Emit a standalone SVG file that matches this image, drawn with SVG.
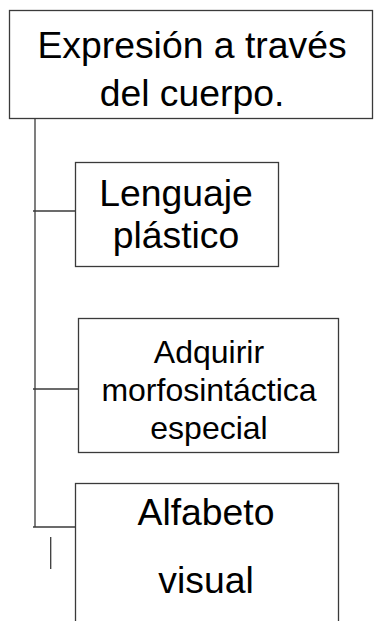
<svg xmlns="http://www.w3.org/2000/svg" width="374" height="621" viewBox="0 0 374 621">
<style>
.box{fill:#fff;stroke:#3a3a3a;stroke-width:1.3}
.ln{stroke:#3a3a3a;stroke-width:1.3;fill:none}
.t{font-family:"Liberation Sans",Arial,sans-serif;fill:#000;text-anchor:middle}
.b{font-size:37.33px}
.s{font-size:32px}
</style>
<rect width="374" height="621" fill="#fff"/>
<g id="connectors">
<path class="ln" d="M35,119 V527"/>
<path class="ln" d="M33,211 H75"/>
<path class="ln" d="M33,389 H78"/>
<path class="ln" d="M33,527 H75"/>
<path class="ln" d="M50.7,537 V569"/>
</g>
<g id="root">
<rect class="box" x="9.5" y="10.5" width="363" height="108"/>
<text class="t b" x="192" y="58">Expresión a través</text>
<text class="t b" x="192" y="106">del cuerpo.</text>
</g>
<g id="n1">
<rect class="box" x="75.5" y="162.5" width="203" height="104"/>
<text class="t b" x="176" y="206">Lenguaje</text>
<text class="t b" x="176" y="248">plástico</text>
</g>
<g id="n2">
<rect class="box" x="78.5" y="318.5" width="260" height="134"/>
<text class="t s" x="209" y="363">Adquirir</text>
<text class="t s" x="209" y="401">morfosintáctica</text>
<text class="t s" x="209" y="439">especial</text>
</g>
<g id="n3">
<rect class="box" x="75.5" y="483.5" width="263" height="160"/>
<text class="t b" x="206" y="525">Alfabeto</text>
<text class="t b" x="206" y="593">visual</text>
</g>
</svg>
